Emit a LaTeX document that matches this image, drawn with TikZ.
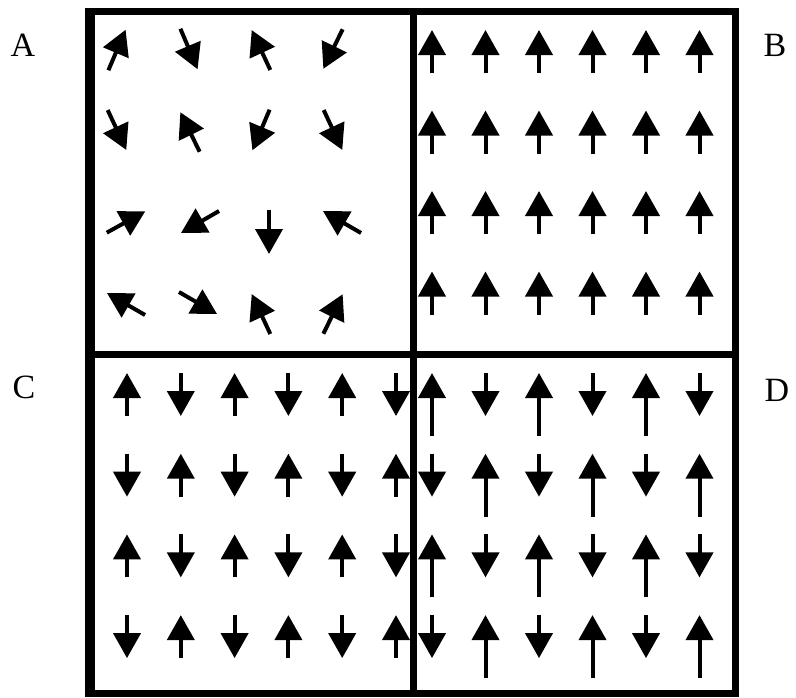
\documentclass[tikz,border=0pt]{standalone}
\usepackage{fontspec}
\setmainfont{Liberation Serif}
\usetikzlibrary{arrows.meta,calc}

\begin{document}
\begin{tikzpicture}[x=1pt, y=-1pt,
    spin/.style={-{Triangle[length=25pt, width=27pt]}, line width=4pt},
    wall/.style={line width=7pt},
    lbl/.style={font=\fontsize{34}{34}\selectfont, inner sep=0pt}
]
\useasboundingbox (0,0) rectangle (796,697);
% frame and panel borders
\draw[wall] (91,11) rectangle (735.5,693);
\draw[wall, line width=10pt] (90,7.5) -- (90,696.5);
\draw[wall] (413,11) -- (413,693);
\draw[wall] (91,354) -- (735.5,354);

% panel letters
\node[lbl] (la) at (23,45) {A};
\node[lbl] (lb) at (775,45) {B};
\node[lbl] (lc) at (24,387) {C};
\node[lbl] (ld) at (777,390) {D};

% A: random spins (centre x/y, angle)
\foreach \x/\y/\a in {117/50/67, 189/49/-67, 261/50/115, 333/49/-116,
                      117/130/-65, 190/132/116, 261/130/-113, 333/130/-65,
                      126/222/29, 200/222/-150, 269/232/-90, 342/222/150,
                      126/304/150, 198/303/-30, 261/314/115, 333/314/64}
  \draw[spin] ($(\x,\y)+(\a+180:22pt)$) -- ($(\x,\y)+(\a:22pt)$);

% B: all up
\foreach \i in {0,...,5}
  \foreach \j in {0,...,3}
    \draw[spin] (432+53.5*\i, 73+80.5*\j) -- ++(0,-43);

% C: alternating, equal length
\foreach \i in {0,...,5}
  \foreach \j in {0,...,3} {
    \ifodd\numexpr\i+\j\relax
      \draw[spin] (127+53.8*\i, 373+80.7*\j) -- ++(0,43);
    \else
      \draw[spin] (127+53.8*\i, 416+80.7*\j) -- ++(0,-43);
    \fi
  }

% D: alternating, up spins longer
\foreach \i in {0,...,5}
  \foreach \j in {0,...,3} {
    \ifodd\numexpr\i+\j\relax
      \draw[spin] (432+53.5*\i, 373+80.7*\j) -- ++(0,43);
    \else
      \draw[spin] (432+53.5*\i, 436+80.7*\j) -- ++(0,-63);
    \fi
  }
\end{tikzpicture}
\end{document}
